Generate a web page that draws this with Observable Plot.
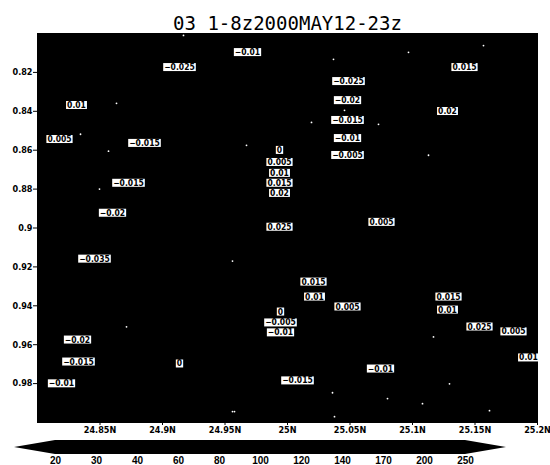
<!DOCTYPE html>
<html>
<head>
<meta charset="utf-8">
<script src="https://cdn.jsdelivr.net/npm/d3@7"></script>
<script src="https://cdn.jsdelivr.net/npm/@observablehq/plot@0.6"></script>
<style>
  body { margin: 0; background: #fff; }
  svg { display: block; }
</style>
</head>
<body>
<div id="chart"></div>
<script>
// Station plot: 1–8z change, 2000 May 12, 23z
const title = "03 1-8z2000MAY12-23z";

// Reporting stations: longitude, latitude and plotted value
const stationLon = [24.9136, 24.8312, 24.8176, 24.8856, 24.8728, 24.8600, 24.9680,
  25.0488, 25.0480, 25.0480, 25.0480, 25.0480,
  24.9936, 24.9936, 24.9936, 24.9936, 24.9936, 24.9936,
  25.0752, 25.1416, 25.1280, 24.8456, 24.8320, 24.8328, 24.9136, 24.8192,
  25.0208, 25.0216, 25.0480, 24.9944, 24.9944, 24.9944, 25.0080, 25.0744,
  25.1288, 25.1280, 25.1536, 25.1808, 25.1928];
const stationLat = [0.8174, 0.8369, 0.8544, 0.8564, 0.8769, 0.8923, 0.8097,
  0.8246, 0.8344, 0.8446, 0.8539, 0.8626,
  0.8600, 0.8662, 0.8718, 0.8769, 0.8821, 0.8995,
  0.8970, 0.8174, 0.8400, 0.9159, 0.9575, 0.9688, 0.9698, 0.9800,
  0.9277, 0.9354, 0.9405, 0.9431, 0.9487, 0.9538, 0.9785, 0.9724,
  0.9354, 0.9421, 0.9508, 0.9533, 0.9667];
const stationValue = [-0.025, 0.01, 0.005, -0.015, -0.015, -0.02, -0.01,
  -0.025, -0.02, -0.015, -0.01, -0.005,
  0, 0.005, 0.01, 0.015, 0.02, 0.025,
  0.005, 0.015, 0.02, -0.035, -0.02, -0.015, 0, -0.01,
  0.015, 0.01, 0.005, 0, -0.005, -0.01, -0.015, -0.01,
  0.015, 0.01, 0.025, 0.005, 0.01];

// Station sites without a plotted value
const siteLon = [24.8344, 24.8632, 24.8568, 24.8496, 24.9168, 25.0368, 25.0192, 24.9672,
  25.0456, 25.0968, 25.1568, 25.0728, 25.1128, 24.8712, 24.9560, 25.0360,
  24.9560, 24.9576, 25.0376, 25.1168, 25.1296, 25.0800, 25.1080, 25.1616];
const siteLat = [0.8518, 0.8359, 0.8605, 0.8800, 0.8010, 0.8133, 0.8457, 0.8575,
  0.8395, 0.8097, 0.8062, 0.8467, 0.8626, 0.9508, 0.9170, 0.9847,
  0.9944, 0.9944, 0.9970, 0.9560, 0.9801, 0.9877, 0.9903, 0.9939];

// Axis ticks
const lonTicks = [24.85, 24.9, 24.95, 25.0, 25.05, 25.1, 25.15, 25.2];
const latTicks = [0.82, 0.84, 0.86, 0.88, 0.9, 0.92, 0.94, 0.96, 0.98];

// Colour-bar level labels
const barLevels = [20, 30, 40, 60, 80, 100, 120, 140, 170, 200, 250];

const stations = stationValue.map((v, i) => ({lon: stationLon[i], lat: stationLat[i], value: v}));
const sites = siteLon.map((lon, i) => ({lon, lat: siteLat[i]}));
const valueText = v => String(v).replace("-", "\u2212");

const axisFont = "'Liberation Sans Narrow', 'DejaVu Sans Condensed', sans-serif";

const main = Plot.plot({
  width: 550,
  height: 440,
  marginTop: 33,
  marginBottom: 18,
  marginLeft: 37,
  marginRight: 13,
  style: {fontFamily: axisFont, fontSize: "9px", fontWeight: "bold", background: "white", color: "black"},
  x: {domain: [24.8, 25.2], ticks: lonTicks, tickFormat: d => `${+d.toFixed(2)}N`, tickSize: 3, tickPadding: 1, label: null},
  y: {domain: [0.8, 1.0], reverse: true, ticks: latTicks, tickFormat: d => `${+d.toFixed(2)}`, tickSize: 4, tickPadding: 1, label: null},
  marks: [
    Plot.frame({fill: "black", stroke: "black"}),
    Plot.dot(sites, {x: "lon", y: "lat", r: 0.9, fill: "white", stroke: null}),
    Plot.text(stations, {x: "lon", y: "lat", text: d => valueText(d.value), fill: "black", fontSize: 8.5, fontWeight: "bold"}),
    Plot.text([title], {frameAnchor: "top", dy: -17, text: d => d, fontFamily: "'DejaVu Sans Mono', monospace", fontSize: 19, fontWeight: "normal", fill: "black"})
  ]
});
document.getElementById("chart").append(main);

// White label boxes behind each station value (the first text layer)
const valueLayer = main.querySelector('g[aria-label="text"]');
valueLayer.querySelectorAll("text").forEach(t => {
  const b = t.getBBox();
  const r = document.createElementNS("http://www.w3.org/2000/svg", "rect");
  r.setAttribute("x", b.x - 1);
  r.setAttribute("y", b.y + 1);
  r.setAttribute("width", b.width + 2);
  r.setAttribute("height", b.height - 2);
  r.setAttribute("fill", "white");
  const tr = t.getAttribute("transform");
  if (tr) r.setAttribute("transform", tr);
  t.parentNode.insertBefore(r, t);
});

// Colour bar with pointed end boxes
const n = barLevels.length;
const barOutline = [
  {i: -1, lo: 0, hi: 0},
  {i: 0, lo: -1, hi: 1},
  {i: n - 1, lo: -1, hi: 1},
  {i: n, lo: 0, hi: 0}
];
const bar = Plot.plot({
  width: 550,
  height: 25,
  margin: 0,
  style: {fontFamily: "'Liberation Sans', sans-serif", background: "white"},
  x: {type: "linear", domain: [-1, n], range: [14, 14 + 41 * (n + 1)], axis: null},
  y: {domain: [-1, 1], range: [14, 0], axis: null},
  marks: [
    Plot.areaY(barOutline, {x: "i", y1: "lo", y2: "hi", fill: "black"}),
    Plot.text(barLevels, {x: (d, i) => i, y: -1, text: d => String(d), lineAnchor: "top", dy: 2, fontSize: 10, fontWeight: "bold", fill: "black"})
  ]
});
document.getElementById("chart").append(bar);
</script>
</body>
</html>
